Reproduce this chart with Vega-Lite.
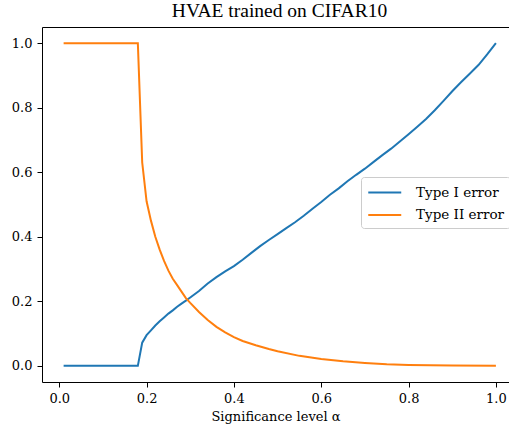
{
  "$schema": "https://vega.github.io/schema/vega-lite/v6.json",
  "autosize": {"type": "none"},
  "padding": {"left": 42, "top": 27, "right": 0, "bottom": 45},
  "width": 467,
  "height": 355,
  "background": "white",
  "title": {"text": "HVAE trained on CIFAR10", "font": "'Liberation Serif', 'DejaVu Serif', serif", "fontSize": 19.5, "fontWeight": "normal", "color": "black", "offset": 6, "dx": 4},
  "data": {"values": [
    {"a": 0.01, "v": 0.0, "s": "Type I error"},
    {"a": 0.18, "v": 0.0, "s": "Type I error"},
    {"a": 0.19, "v": 0.072, "s": "Type I error"},
    {"a": 0.20, "v": 0.095, "s": "Type I error"},
    {"a": 0.21, "v": 0.11, "s": "Type I error"},
    {"a": 0.22, "v": 0.125, "s": "Type I error"},
    {"a": 0.23, "v": 0.138, "s": "Type I error"},
    {"a": 0.24, "v": 0.15, "s": "Type I error"},
    {"a": 0.25, "v": 0.162, "s": "Type I error"},
    {"a": 0.26, "v": 0.172, "s": "Type I error"},
    {"a": 0.27, "v": 0.183, "s": "Type I error"},
    {"a": 0.28, "v": 0.193, "s": "Type I error"},
    {"a": 0.29, "v": 0.202, "s": "Type I error"},
    {"a": 0.30, "v": 0.212, "s": "Type I error"},
    {"a": 0.32, "v": 0.232, "s": "Type I error"},
    {"a": 0.34, "v": 0.255, "s": "Type I error"},
    {"a": 0.36, "v": 0.275, "s": "Type I error"},
    {"a": 0.38, "v": 0.293, "s": "Type I error"},
    {"a": 0.40, "v": 0.309, "s": "Type I error"},
    {"a": 0.42, "v": 0.329, "s": "Type I error"},
    {"a": 0.44, "v": 0.35, "s": "Type I error"},
    {"a": 0.46, "v": 0.371, "s": "Type I error"},
    {"a": 0.48, "v": 0.39, "s": "Type I error"},
    {"a": 0.50, "v": 0.408, "s": "Type I error"},
    {"a": 0.52, "v": 0.427, "s": "Type I error"},
    {"a": 0.54, "v": 0.445, "s": "Type I error"},
    {"a": 0.56, "v": 0.465, "s": "Type I error"},
    {"a": 0.58, "v": 0.487, "s": "Type I error"},
    {"a": 0.60, "v": 0.508, "s": "Type I error"},
    {"a": 0.62, "v": 0.53, "s": "Type I error"},
    {"a": 0.64, "v": 0.55, "s": "Type I error"},
    {"a": 0.66, "v": 0.572, "s": "Type I error"},
    {"a": 0.68, "v": 0.592, "s": "Type I error"},
    {"a": 0.70, "v": 0.611, "s": "Type I error"},
    {"a": 0.72, "v": 0.632, "s": "Type I error"},
    {"a": 0.74, "v": 0.653, "s": "Type I error"},
    {"a": 0.76, "v": 0.673, "s": "Type I error"},
    {"a": 0.78, "v": 0.695, "s": "Type I error"},
    {"a": 0.80, "v": 0.718, "s": "Type I error"},
    {"a": 0.82, "v": 0.741, "s": "Type I error"},
    {"a": 0.84, "v": 0.765, "s": "Type I error"},
    {"a": 0.86, "v": 0.792, "s": "Type I error"},
    {"a": 0.88, "v": 0.821, "s": "Type I error"},
    {"a": 0.90, "v": 0.851, "s": "Type I error"},
    {"a": 0.92, "v": 0.879, "s": "Type I error"},
    {"a": 0.94, "v": 0.905, "s": "Type I error"},
    {"a": 0.96, "v": 0.932, "s": "Type I error"},
    {"a": 0.98, "v": 0.965, "s": "Type I error"},
    {"a": 1.00, "v": 1.0, "s": "Type I error"},
    {"a": 0.01, "v": 1.0, "s": "Type II error"},
    {"a": 0.18, "v": 1.0, "s": "Type II error"},
    {"a": 0.19, "v": 0.63, "s": "Type II error"},
    {"a": 0.20, "v": 0.51, "s": "Type II error"},
    {"a": 0.21, "v": 0.45, "s": "Type II error"},
    {"a": 0.22, "v": 0.40, "s": "Type II error"},
    {"a": 0.23, "v": 0.36, "s": "Type II error"},
    {"a": 0.24, "v": 0.325, "s": "Type II error"},
    {"a": 0.25, "v": 0.295, "s": "Type II error"},
    {"a": 0.26, "v": 0.27, "s": "Type II error"},
    {"a": 0.27, "v": 0.25, "s": "Type II error"},
    {"a": 0.28, "v": 0.23, "s": "Type II error"},
    {"a": 0.29, "v": 0.21, "s": "Type II error"},
    {"a": 0.30, "v": 0.195, "s": "Type II error"},
    {"a": 0.32, "v": 0.167, "s": "Type II error"},
    {"a": 0.34, "v": 0.142, "s": "Type II error"},
    {"a": 0.36, "v": 0.121, "s": "Type II error"},
    {"a": 0.38, "v": 0.104, "s": "Type II error"},
    {"a": 0.40, "v": 0.089, "s": "Type II error"},
    {"a": 0.42, "v": 0.077, "s": "Type II error"},
    {"a": 0.45, "v": 0.064, "s": "Type II error"},
    {"a": 0.48, "v": 0.052, "s": "Type II error"},
    {"a": 0.50, "v": 0.045, "s": "Type II error"},
    {"a": 0.55, "v": 0.031, "s": "Type II error"},
    {"a": 0.60, "v": 0.021, "s": "Type II error"},
    {"a": 0.65, "v": 0.014, "s": "Type II error"},
    {"a": 0.70, "v": 0.009, "s": "Type II error"},
    {"a": 0.75, "v": 0.005, "s": "Type II error"},
    {"a": 0.80, "v": 0.003, "s": "Type II error"},
    {"a": 0.85, "v": 0.002, "s": "Type II error"},
    {"a": 0.90, "v": 0.001, "s": "Type II error"},
    {"a": 1.00, "v": 0.0, "s": "Type II error"}
  ]},
  "layer": [
    {
      "mark": {"type": "line", "strokeWidth": 2, "clip": true},
      "encoding": {
        "x": {"field": "a", "type": "quantitative",
          "scale": {"domain": [-0.0395, 1.03], "nice": false, "zero": false},
          "axis": {"values": [0, 0.2, 0.4, 0.6, 0.8, 1.0], "format": ".1f", "title": "Significance level α", "orient": "bottom",
            "labelFont": "DejaVu Serif", "titleFont": "DejaVu Serif"}},
        "y": {"field": "v", "type": "quantitative",
          "scale": {"domain": [-0.05, 1.05], "nice": false, "zero": false},
          "axis": {"values": [0, 0.2, 0.4, 0.6, 0.8, 1.0], "format": ".1f", "title": null,
            "labelFont": "DejaVu Serif"}},
        "color": {"field": "s", "type": "nominal",
          "scale": {"domain": ["Type I error", "Type II error"], "range": ["#1f77b4", "#ff7f0e"]},
          "legend": {"title": null, "orient": "none", "legendX": 319, "legendY": 150,
            "symbolType": "M-1,0H3", "symbolSize": 272, "symbolStrokeWidth": 2,
            "labelFont": "DejaVu Serif", "labelFontSize": 13.5, "labelColor": "black", "labelOffset": 30,
            "fillColor": "white", "strokeColor": "#cccccc", "cornerRadius": 3, "padding": 6, "rowPadding": 6.5}}
      }
    },
    {
      "mark": {"type": "point", "opacity": 0},
      "encoding": {
        "x": {"field": "a", "type": "quantitative",
          "axis": {"orient": "top", "labels": false, "ticks": false, "title": null}}
      }
    }
  ],
  "resolve": {"axis": {"x": "independent"}},
  "config": {
    "view": {"stroke": null},
    "axis": {"grid": false, "domainColor": "black", "domainWidth": 1, "tickColor": "black", "tickSize": 5, "tickWidth": 1,
      "labelFontSize": 13, "labelColor": "black", "labelPadding": 5,
      "titleFontSize": 13, "titleFontWeight": "normal", "titleColor": "black", "titlePadding": 5}
  }
}
